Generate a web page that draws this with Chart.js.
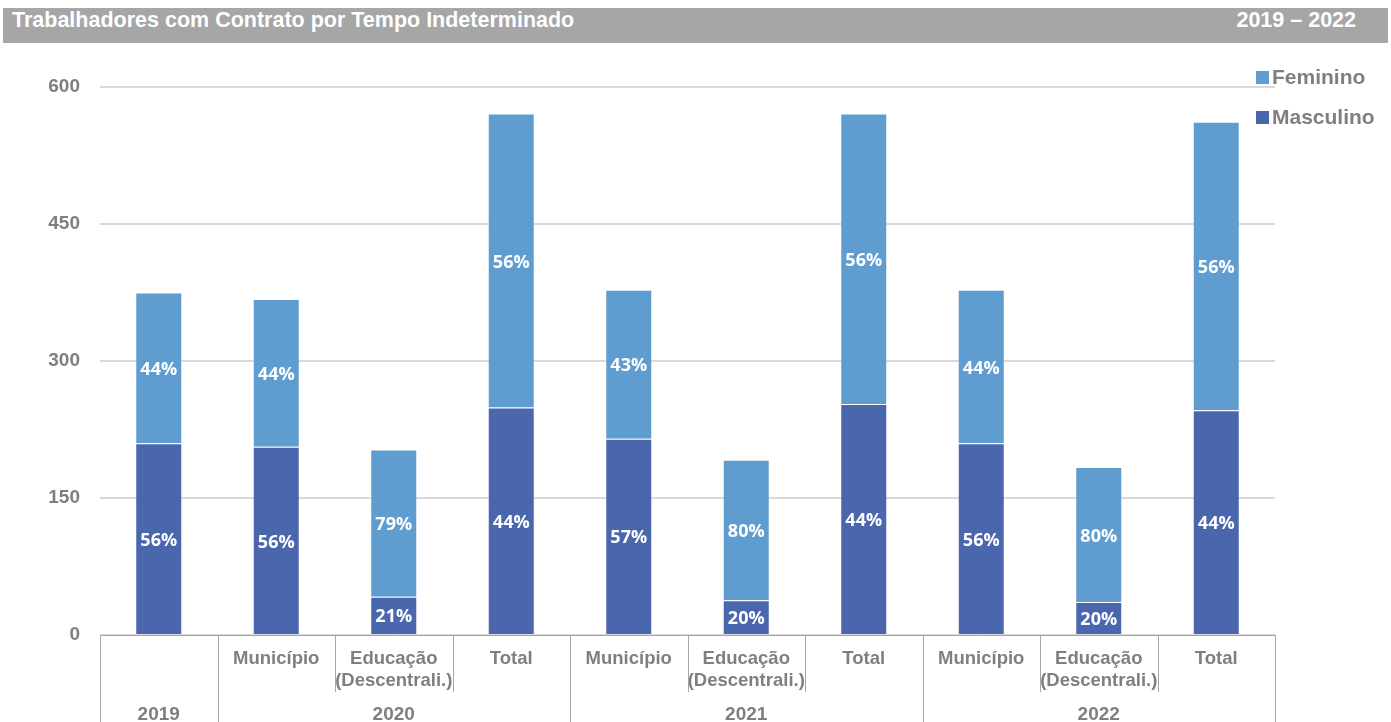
<!DOCTYPE html>
<html>
<head>
<meta charset="utf-8">
<script src="https://cdn.jsdelivr.net/npm/chart.js@4/dist/chart.umd.min.js"></script>
<style>
    body { margin: 0; background: #fff; font-family: "Liberation Sans", Arial, sans-serif; }
    #wrap { position: relative; width: 1391px; height: 722px; overflow: hidden; }
    #chart { position: absolute; left: 0; top: 0; }
    .title-bar {
        position: absolute; left: 3px; top: 8px; width: 1385px; height: 35px;
        background: #a6a6a6; color: #fff; font-weight: bold; font-size: 21.5px; line-height: 24px;
        display: flex; align-items: flex-start; justify-content: space-between;
        box-sizing: border-box; padding: 0 32px 0 9px;
    }
    .legend { position: absolute; left: 1256px; top: 63px; }
    .legend div { display: flex; align-items: center; height: 28px; margin-bottom: 12px;
        font-weight: bold; font-size: 21px; color: #7f7f7f; }
    .legend span { display: inline-block; width: 13px; height: 13px; margin-right: 3px; }
</style>
</head>
<body>
<div id="wrap">
    <canvas id="chart" width="1391" height="722"></canvas>
    <div class="title-bar"><span>Trabalhadores com Contrato por Tempo Indeterminado</span><span>2019 – 2022</span></div>
    <div class="legend" id="legend"></div>
</div>
<script>
// Category labels (second row of the x axis) and year groups
const categories = ['', 'Município', ['Educação', '(Descentrali.)'], 'Total',
    'Município', ['Educação', '(Descentrali.)'], 'Total',
    'Município', ['Educação', '(Descentrali.)'], 'Total'];
const years = ['2019', '2020', '2021', '2022'];
const yearSpans = [1, 3, 3, 3]; // number of categories in each year
const yTicks = [0, 150, 300, 450, 600];

// Series values
const masculino = [210, 206, 42, 249, 215, 38, 253, 210, 36, 246];
const feminino = [165, 162, 161, 322, 163, 154, 318, 168, 148, 316];

const colors = { masculino: '#4a66ad', feminino: '#5f9dd1' };
const gray = '#7f7f7f';
const fontFamily = '"Liberation Sans", Arial, sans-serif';

// HTML legend (Feminino on top)
document.getElementById('legend').innerHTML = `
    <div><span style="background:${colors.feminino}"></span>Feminino</div>
    <div><span style="background:${colors.masculino}"></span>Masculino</div>
`;

// Percent labels inside each segment + multi-level x axis
const overlayPlugin = {
    id: 'overlay',
    afterDatasetsDraw(chart) {
        const ctx = chart.ctx;
        ctx.save();
        ctx.fillStyle = '#fff';
        ctx.font = 'bold 18px "Open Sans", sans-serif';
        ctx.textAlign = 'center';
        ctx.textBaseline = 'middle';
        chart.data.datasets.forEach((ds, di) => {
            const meta = chart.getDatasetMeta(di);
            meta.data.forEach((bar, i) => {
                const total = masculino[i] + feminino[i];
                const pct = Math.round(ds.data[i] / total * 100) + '%';
                ctx.fillText(pct, bar.x, (bar.y + bar.base) / 2 + 2);
            });
        });
        ctx.restore();
    },
    afterDraw(chart) {
        const ctx = chart.ctx;
        const x = chart.scales.x;
        const area = chart.chartArea;
        const step = x.getPixelForValue(1) - x.getPixelForValue(0);
        const edge = i => x.getPixelForValue(i) - step / 2;
        ctx.save();
        // category labels
        ctx.fillStyle = gray;
        ctx.font = 'bold 18.5px ' + fontFamily;
        ctx.textAlign = 'center';
        ctx.textBaseline = 'middle';
        categories.forEach((lab, i) => {
            const lines = Array.isArray(lab) ? lab : [lab];
            lines.forEach((l, k) => ctx.fillText(l, x.getPixelForValue(i), area.bottom + 24 + k * 22));
        });
        // year labels
        ctx.font = 'bold 19px ' + fontFamily;
        let start = 0;
        years.forEach((y, g) => {
            const cx = (edge(start) + edge(start + yearSpans[g])) / 2;
            ctx.fillText(y, cx, area.bottom + 80);
            start += yearSpans[g];
        });
        // axis line
        ctx.strokeStyle = '#a6a6a6';
        ctx.lineWidth = 1;
        ctx.beginPath();
        ctx.moveTo(area.left, area.bottom + 0.5);
        ctx.lineTo(area.right, area.bottom + 0.5);
        ctx.stroke();
        // separators: year boundaries run to the bottom, others are shorter
        const boundaries = [0];
        yearSpans.reduce((acc, n) => { boundaries.push(acc + n); return acc + n; }, 0);
        for (let i = 0; i <= categories.length; i++) {
            const px = Math.round(edge(i)) + 0.5;
            const full = boundaries.includes(i);
            ctx.beginPath();
            ctx.moveTo(px, area.bottom);
            ctx.lineTo(px, full ? chart.height : area.bottom + 57);
            ctx.stroke();
        }
        ctx.restore();
    }
};

new Chart(document.getElementById('chart'), {
    type: 'bar',
    data: {
        labels: categories.map(c => Array.isArray(c) ? c.join(' ') : c),
        datasets: [
            { label: 'Masculino', data: masculino, backgroundColor: colors.masculino,
              borderColor: 'rgba(255,255,255,0.3)', borderWidth: 1,
              categoryPercentage: 1, barPercentage: 0.4 },
            { label: 'Feminino', data: feminino, backgroundColor: colors.feminino,
              borderColor: 'rgba(255,255,255,0.3)', borderWidth: 1,
              categoryPercentage: 1, barPercentage: 0.4 }
        ]
    },
    options: {
        responsive: false,
        animation: false,
        layout: { padding: { left: 0, right: 116, top: 87, bottom: 0 } },
        plugins: { legend: { display: false }, tooltip: { enabled: false } },
        scales: {
            x: {
                stacked: true,
                grid: { display: false },
                border: { display: false },
                ticks: { display: false },
                afterFit: s => { s.height = 87; }
            },
            y: {
                stacked: true,
                min: 0,
                max: 600,
                afterBuildTicks: s => { s.ticks = yTicks.map(v => ({ value: v })); },
                ticks: { color: gray, font: { family: fontFamily, size: 19, weight: 'bold' }, padding: 20 },
                grid: { color: '#d9d9d9', lineWidth: 2, drawTicks: false },
                border: { display: false },
                afterFit: s => { s.width = 100; }
            }
        }
    },
    plugins: [overlayPlugin]
});
</script>
</body>
</html>
